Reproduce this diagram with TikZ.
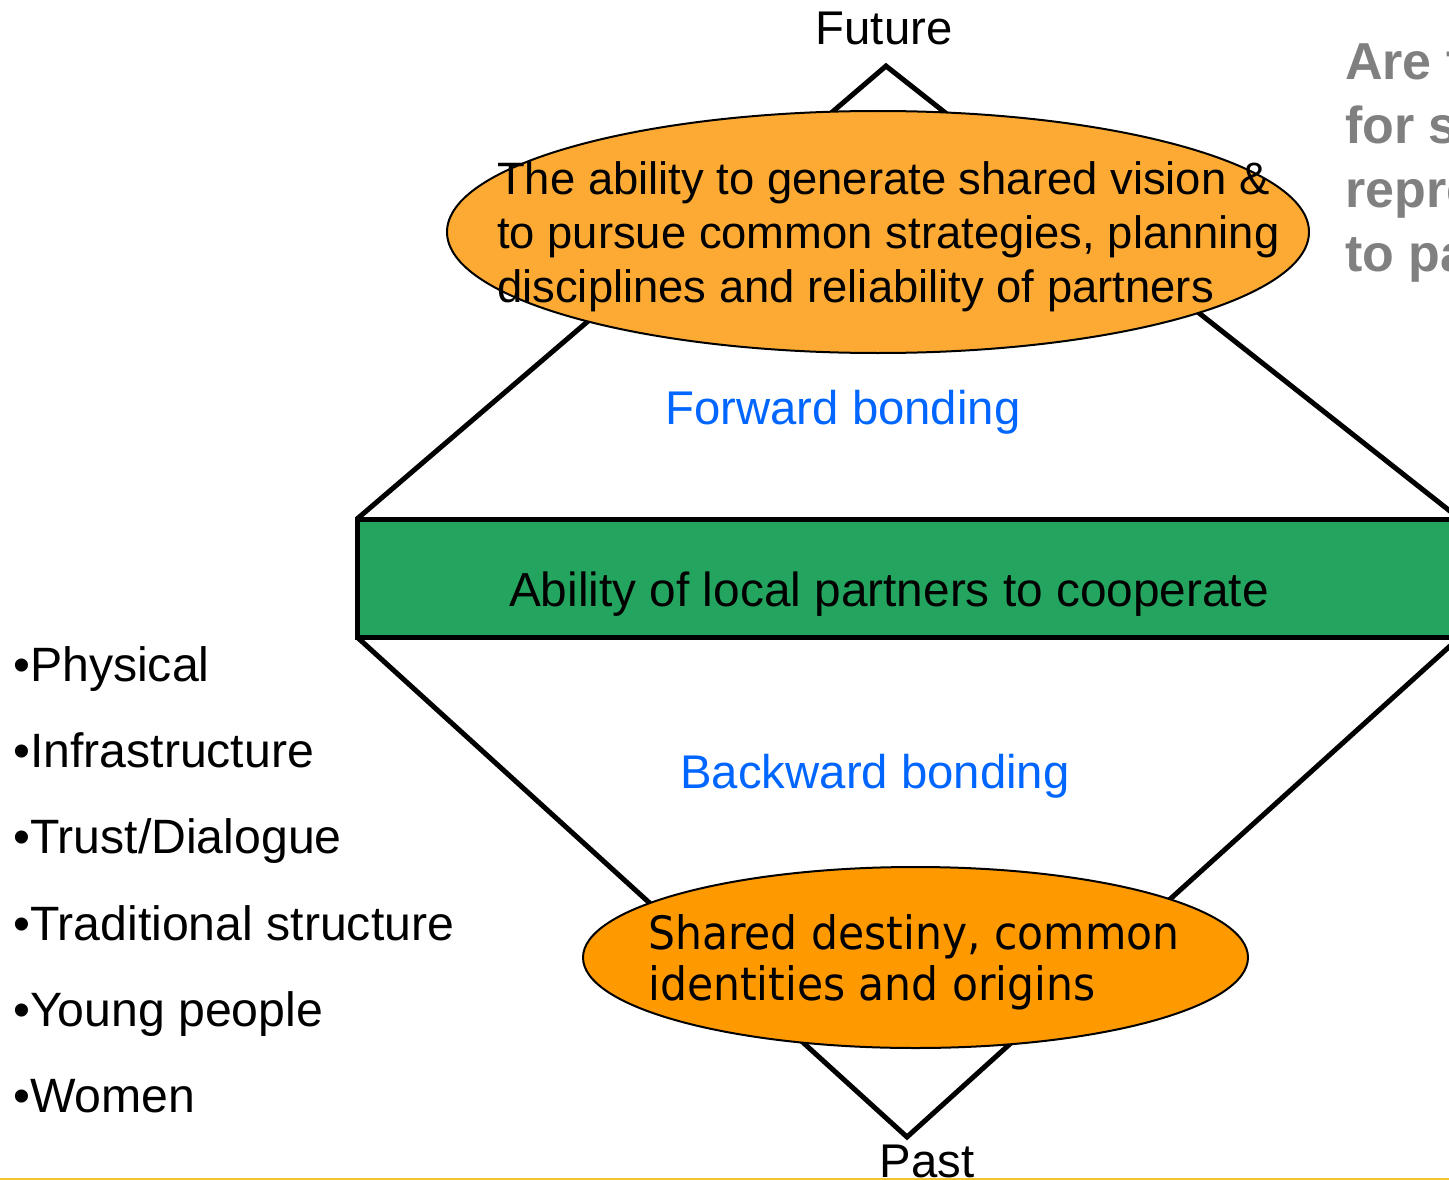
\documentclass[tikz,border=0pt]{standalone}
\usepackage{fontspec}
\setmainfont{Liberation Sans}
\newfontfamily\verdfont[FakeStretch=0.924]{DejaVu Sans}
\usetikzlibrary{shapes.geometric}
\definecolor{toporange}{HTML}{FCAA33}
\definecolor{botorange}{HTML}{FF9900}
\definecolor{coopgreen}{HTML}{23A55F}
\definecolor{bondblue}{HTML}{0066FF}
\definecolor{notegray}{HTML}{808080}
\definecolor{slideline}{HTML}{F5C32C}
\tikzset{
  edge/.style={line width=5pt, line join=miter},
  oval/.style={ellipse, draw=black, line width=2pt, inner sep=0pt},
  coopbox/.style={rectangle, draw=black, fill=coopgreen, line width=5pt, inner sep=0pt},
  lbl/.style={inner sep=0pt, font=\fontsize{47.3}{56}\selectfont},
}
\begin{document}
\begin{tikzpicture}[x=1pt,y=-1pt]
\useasboundingbox (0,0) rectangle (1449,1180);
\begin{scope}
\clip (0,0) rectangle (1449,1180);
\coordinate (top) at (886,66);
\coordinate (L1) at (357,519);
\coordinate (R1) at (1460,519);
\coordinate (L2) at (357,637);
\coordinate (R2) at (1460,637);
\coordinate (bot) at (907,1137);
\draw[edge] (L1) -- (top) -- (R1);
\draw[edge] (L2) -- (bot) -- (R2);
\node[coopbox, minimum width=1103pt, minimum height=118pt] (coop) at (908.5,578) {};
\node[inner sep=0pt, anchor=base, font=\fontsize{47.8}{56}\selectfont] (cooptext) at (889,606) {Ability of local partners to cooperate};
\node[oval, fill=toporange, minimum width=862pt, minimum height=242pt] (future) at (878,232) {};
\node[inner sep=0pt, anchor=west, align=left, font=\fontsize{45.4}{54}\selectfont] (futuretext) at (497,237)
  {The ability to generate shared vision \&\\to pursue common strategies, planning\\disciplines and reliability of partners};
\node[oval, fill=botorange, minimum width=665pt, minimum height=181pt] (past) at (915.5,957.5) {};
\node[inner sep=0pt, anchor=west, align=left, font=\verdfont\fontsize{46}{51}\selectfont] (pasttext) at (648,962)
  {Shared destiny, common\\identities and origins};
\node[lbl, anchor=base] (futurelbl) at (884,45) {Future};
\node[lbl, anchor=base] (pastlbl) at (927,1177) {Past};
\node[lbl, anchor=base, text=bondblue] (fwd) at (843,424) {Forward bonding};
\node[lbl, anchor=base, text=bondblue] (bwd) at (875,788) {Backward bonding};
\node[inner sep=0pt, anchor=north west, align=left, font=\fontsize{48.2}{86.3}\selectfont] (list) at (13,646)
  {•Physical\\•Infrastructure\\•Trust/Dialogue\\•Traditional structure\\•Young people\\•Women};
\node[inner sep=0pt, anchor=north west, align=left, text=notegray, font=\bfseries\fontsize{52}{64}\selectfont] (note) at (1345,44)
  {Are t\\for s\\repre\\to pa};
\coordinate (sl) at (0,1179);
\coordinate (sr) at (1449,1179);
\draw[slideline, line width=2pt] (sl) -- (sr);
\end{scope}
\end{tikzpicture}
\end{document}
